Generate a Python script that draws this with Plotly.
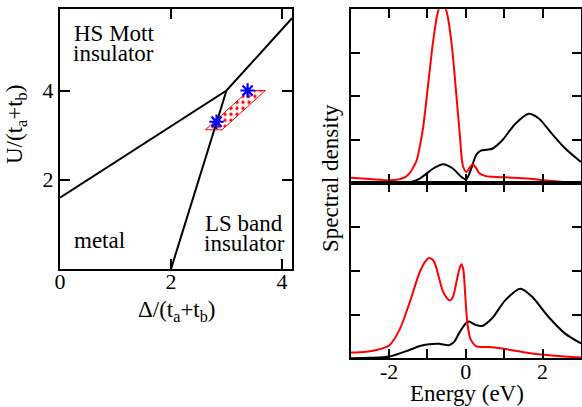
import plotly.graph_objects as go

# ---------------- data ----------------
# phase diagram (left panel)
boundary1_x = [0.0, 3.0, 4.18]
boundary1_y = [1.6, 4.0, 5.62]
boundary2_x = [2.0, 3.0]
boundary2_y = [0.0, 4.0]
region_x = [2.62, 2.92, 3.70, 3.40, 2.62]
region_y = [3.12, 3.12, 4.00, 4.00, 3.12]
star_x = [2.82, 3.38]
star_y = [3.30, 4.00]

# spectral densities (right panels)
top_red_E = [-3.0, -2.5, -2.0, -1.75, -1.57, -1.45, -1.35, -1.28, -1.2, -1.11, -0.98, -0.85,
             -0.74, -0.64, -0.51, -0.38, -0.25, -0.16, -0.07, 0.02, 0.10, 0.18, 0.26, 0.35,
             0.5, 0.69, 1.2, 1.6, 1.97, 2.57, 3.0]
top_red_A = [0.13, 0.10, 0.07, 0.09, 0.15, 0.25, 0.40, 0.53, 0.85, 1.30, 2.29, 3.28,
             3.89, 4.15, 3.97, 3.28, 2.06, 1.14, 0.38, 0.26, 0.36, 0.44, 0.36, 0.23,
             0.17, 0.15, 0.13, 0.11, 0.075, 0.03, 0.02]
top_black_E = [-3.0, -2.0, -1.48, -1.2, -1.0, -0.85, -0.59, -0.34, -0.12, 0.01, 0.14, 0.27,
               0.39, 0.55, 0.7, 0.95, 1.29, 1.64, 1.9, 2.24, 2.59, 3.0]
top_black_A = [0.0, 0.0, 0.02, 0.11, 0.24, 0.34, 0.44, 0.34, 0.15, 0.09, 0.34, 0.65,
               0.75, 0.77, 0.80, 0.99, 1.37, 1.60, 1.49, 1.14, 0.80, 0.49]
bot_red_E = [-3.0, -2.6, -2.33, -1.99, -1.73, -1.47, -1.21, -1.05, -0.96, -0.85, -0.78, -0.61,
             -0.5, -0.41, -0.33, -0.27, -0.18, -0.12, -0.07, -0.03, 0.04, 0.13, 0.26, 0.45,
             0.6, 0.8, 1.03, 1.72, 2.3, 3.0]
bot_red_A = [0.13, 0.15, 0.19, 0.30, 0.65, 1.26, 1.95, 2.22, 2.29, 2.24, 2.10, 1.56,
             1.38, 1.32, 1.42, 1.64, 2.00, 2.15, 2.05, 1.64, 0.80, 0.42, 0.28, 0.26,
             0.26, 0.24, 0.21, 0.11, 0.06, 0.02]
bot_black_E = [-3.0, -2.5, -1.99, -1.47, -1.2, -0.96, -0.7, -0.44, -0.3, -0.18, 0.0, 0.08,
               0.26, 0.43, 0.69, 1.03, 1.42, 1.72, 2.15, 2.58, 3.0]
bot_black_A = [0.0, 0.01, 0.04, 0.19, 0.28, 0.32, 0.33, 0.30, 0.38, 0.57, 0.80, 0.84,
               0.76, 0.74, 0.92, 1.33, 1.59, 1.41, 0.95, 0.57, 0.34]

x_ticks_left = [0, 2, 4]
y_ticks_left = [2, 4]
x_ticks_right = [-2, -1, 0, 1, 2]
x_ticktext_right = ["-2", "", "0", "", "2"]
y_ticks_right = [1, 2, 3]

# ---------------- figure ----------------
W, H = 582, 407
FONT = "'Liberation Serif', 'Times New Roman', Times, serif"


def px(x):
    return x / W


def py(y):
    return 1 - y / H


fig = go.Figure()

# left panel
fig.add_trace(go.Scatter(x=region_x, y=region_y, mode="lines", fill="toself",
                         line=dict(color="red", width=1),
                         fillcolor="white",
                         fillpattern=dict(shape=".", fgcolor="red", bgcolor="white",
                                          size=6, solidity=0.25),
                         xaxis="x", yaxis="y", showlegend=False, hoverinfo="skip"))
fig.add_trace(go.Scatter(x=boundary1_x, y=boundary1_y, mode="lines",
                         line=dict(color="black", width=2), xaxis="x", yaxis="y",
                         showlegend=False))
fig.add_trace(go.Scatter(x=boundary2_x, y=boundary2_y, mode="lines",
                         line=dict(color="black", width=2), xaxis="x", yaxis="y",
                         showlegend=False))
fig.add_trace(go.Scatter(x=star_x, y=star_y, mode="markers",
                         marker=dict(symbol="asterisk-open", size=12, color="blue",
                                     line=dict(color="blue", width=2.2)),
                         xaxis="x", yaxis="y", showlegend=False))

# right panels
for E, A, c, xa, ya in [(top_black_E, top_black_A, "black", "x2", "y2"),
                        (top_red_E, top_red_A, "red", "x2", "y2"),
                        (bot_black_E, bot_black_A, "black", "x3", "y3"),
                        (bot_red_E, bot_red_A, "red", "x3", "y3")]:
    fig.add_trace(go.Scatter(x=E, y=A, mode="lines",
                             line=dict(color=c, width=2, shape="spline", smoothing=0.8),
                             xaxis=xa, yaxis=ya, showlegend=False))

axis_common = dict(showline=True, linewidth=2, linecolor="black", mirror="ticks",
                   ticks="inside", tickwidth=2, tickcolor="black", showgrid=False,
                   zeroline=False, automargin=False,
                   tickfont=dict(family=FONT, size=22, color="black"))

fig.update_layout(
    template="none",
    width=W, height=H, autosize=False,
    margin=dict(l=0, r=0, t=0, b=0, pad=0, autoexpand=False),
    paper_bgcolor="white", plot_bgcolor="white",
    font=dict(family=FONT, size=23, color="black"),
    xaxis=dict(domain=[px(60), px(292)], range=[0, 4.18], tickvals=x_ticks_left,
               ticklen=10, anchor="y", ticklabelstandoff=-8, **axis_common),
    yaxis=dict(domain=[py(269), py(9.3)], range=[0, 5.82], tickvals=y_ticks_left,
               ticklen=10, anchor="x", **axis_common),
    xaxis2=dict(domain=[px(350.7), px(581)], range=[-3, 3], tickvals=x_ticks_right,
                showticklabels=False, ticklen=9, anchor="y2", **axis_common),
    yaxis2=dict(domain=[py(183.3), py(9.3)], range=[0, 4], tickvals=y_ticks_right,
                showticklabels=False, ticklen=9, anchor="x2", **axis_common),
    xaxis3=dict(domain=[px(350.7), px(581)], range=[-3, 3], tickvals=x_ticks_right,
                ticktext=x_ticktext_right, ticklen=9, anchor="y3",
                ticklabelstandoff=-8, **axis_common),
    yaxis3=dict(domain=[py(358.3), py(183.3)], range=[0, 4], tickvals=y_ticks_right,
                showticklabels=False, ticklen=9, anchor="x3", **axis_common),
)


def note(text, x, y, xanchor="center", angle=0):
    fig.add_annotation(text=text, x=px(x), y=py(y), xref="paper", yref="paper",
                       xanchor=xanchor, yanchor="middle", showarrow=False,
                       textangle=angle, borderpad=0,
                       font=dict(family=FONT, size=23, color="black"))


note("HS Mott", 73, 33, "left")
note("insulator", 71.5, 53, "left")
note("metal", 73, 240, "left")
note("LS band", 244, 223)
note("insulator", 244, 243)
note("Δ/(t<sub>a</sub>+t<sub>b</sub>)", 177, 311)
note("U/(t<sub>a</sub>+t<sub>b</sub>)", 16, 125, angle=-90)
note("Spectral density", 331, 178, angle=-90)
note("Energy (eV)", 467, 393)

fig.write_html("out.html", config={"displayModeBar": False},
               post_script="document.body.style.margin='0';document.body.style.padding='0';")
